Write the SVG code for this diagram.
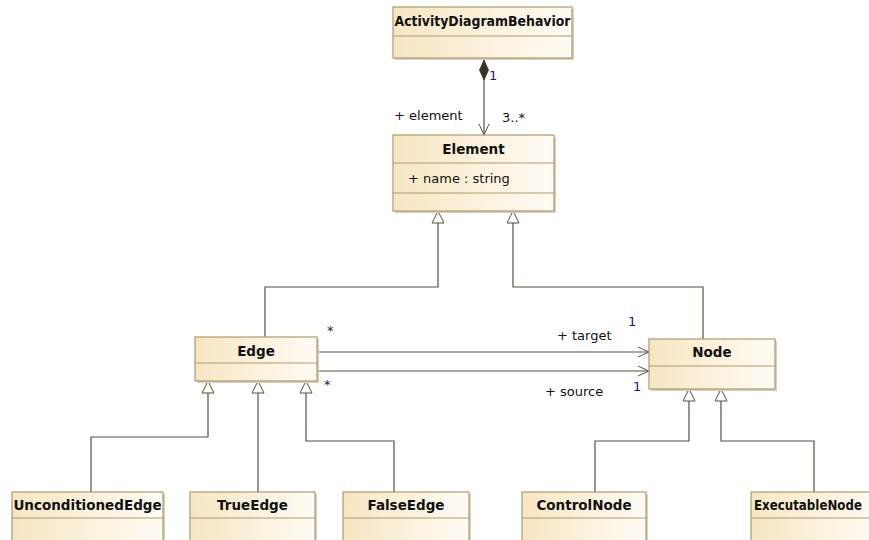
<svg xmlns="http://www.w3.org/2000/svg" width="869" height="540" viewBox="0 0 869 540">
<defs>
<linearGradient id="g" x1="0" y1="0" x2="1" y2="0">
<stop offset="0" stop-color="#F6E6C2"/>
<stop offset="1" stop-color="#FFFCF5"/>
</linearGradient>
<marker id="tri" viewBox="0 0 14 14" refX="13" refY="7" markerWidth="14" markerHeight="14" markerUnits="userSpaceOnUse" orient="auto">
<path d="M13,7 L1,1 L1,13 Z" fill="#fff" stroke="#5b4f3f" stroke-width="1"/>
</marker>
<marker id="open" viewBox="0 0 12 12" refX="11" refY="6" markerWidth="12" markerHeight="12" markerUnits="userSpaceOnUse" orient="auto-start-reverse">
<path d="M0,1 L11,6 L0,11" fill="none" stroke="#5b4f3f" stroke-width="1"/>
</marker>
<marker id="dia" viewBox="0 0 22 10" refX="21" refY="5" markerWidth="22" markerHeight="10" markerUnits="userSpaceOnUse" orient="auto">
<path d="M1,5 L11,0.5 L21,5 L11,9.5 Z" fill="#3a3228" stroke="#3a3228" stroke-width="0.8"/>
</marker>
</defs>
<style>
.box{fill:url(#g);stroke:#B09A6E;stroke-width:1.2}
.sh{fill:#d8cfc0}
.div{stroke:#B09A6E;stroke-width:1.2}
.name{font-family:"DejaVu Sans","Liberation Sans",sans-serif;font-size:13.5px;font-weight:bold;fill:#111;text-anchor:middle}
.t{font-family:"DejaVu Sans","Liberation Sans",sans-serif;font-size:13px;fill:#111}
.m{font-family:"DejaVu Sans","Liberation Sans",sans-serif;font-size:13px;fill:#20185a}
.c{fill:none;stroke:#5b4f3f;stroke-width:1.2}
</style>
<rect width="869" height="540" fill="#fff"/>
<g id="connectors">
<path class="c" d="M484,135 L484,60" marker-start="url(#open)" marker-end="url(#dia)"/>
<path class="c" d="M265,337 L265,287 L438,287 L438,211" marker-end="url(#tri)"/>
<path class="c" d="M703,339 L703,287 L513,287 L513,211" marker-end="url(#tri)"/>
<path class="c" d="M317,352 L649,352" marker-end="url(#open)"/>
<path class="c" d="M317,371 L649,371" marker-end="url(#open)"/>
<path class="c" d="M91,492 L91,437 L208,437 L208,381" marker-end="url(#tri)"/>
<path class="c" d="M258,492 L258,381" marker-end="url(#tri)"/>
<path class="c" d="M394,492 L394,441 L306,441 L306,381" marker-end="url(#tri)"/>
<path class="c" d="M595,492 L595,441 L689,441 L689,389" marker-end="url(#tri)"/>
<path class="c" d="M814,492 L814,441 L721,441 L721,389" marker-end="url(#tri)"/>
<text class="m" x="489" y="80">1</text>
<text class="t" x="394" y="120">+ element</text>
<text class="t" x="502" y="122">3..*</text>
<text class="m" x="327" y="335">*</text>
<text class="m" x="324" y="389">*</text>
<text class="t" x="557" y="340">+ target</text>
<text class="t" x="545" y="396">+ source</text>
<text class="m" x="628" y="326">1</text>
<text class="m" x="633" y="391">1</text>
</g>
<g id="ActivityDiagramBehavior">
<rect class="sh" x="395" y="9" width="179" height="51"/>
<rect class="box" x="393" y="7" width="179" height="51"/>
<line class="div" x1="393" y1="36" x2="572" y2="36"/>
<text class="name" x="482.5" y="26" textLength="176" lengthAdjust="spacingAndGlyphs">ActivityDiagramBehavior</text>
</g>
<g id="Element">
<rect class="sh" x="395" y="137" width="161" height="76"/>
<rect class="box" x="393" y="135" width="161" height="76"/>
<line class="div" x1="393" y1="163" x2="554" y2="163"/>
<line class="div" x1="393" y1="193" x2="554" y2="193"/>
<text class="name" x="473.5" y="154">Element</text>
<text class="t" x="408" y="183">+ name : string</text>
</g>
<g id="Edge">
<rect class="sh" x="197" y="339" width="122" height="44"/>
<rect class="box" x="195" y="337" width="122" height="44"/>
<line class="div" x1="195" y1="363" x2="317" y2="363"/>
<text class="name" x="256" y="356">Edge</text>
</g>
<g id="Node">
<rect class="sh" x="651" y="341" width="126" height="50"/>
<rect class="box" x="649" y="339" width="126" height="50"/>
<line class="div" x1="649" y1="366" x2="775" y2="366"/>
<text class="name" x="712" y="357">Node</text>
</g>
<g id="UnconditionedEdge">
<rect class="sh" x="14" y="494" width="151" height="50"/>
<rect class="box" x="12" y="492" width="151" height="60"/>
<line class="div" x1="12" y1="518" x2="163" y2="518"/>
<text class="name" x="87.5" y="510">UnconditionedEdge</text>
</g>
<g id="TrueEdge">
<rect class="sh" x="192" y="494" width="125" height="50"/>
<rect class="box" x="190" y="492" width="125" height="60"/>
<line class="div" x1="190" y1="518" x2="315" y2="518"/>
<text class="name" x="252.5" y="510">TrueEdge</text>
</g>
<g id="FalseEdge">
<rect class="sh" x="345" y="494" width="126" height="50"/>
<rect class="box" x="343" y="492" width="126" height="60"/>
<line class="div" x1="343" y1="518" x2="469" y2="518"/>
<text class="name" x="406" y="510">FalseEdge</text>
</g>
<g id="ControlNode">
<rect class="sh" x="524" y="494" width="124" height="50"/>
<rect class="box" x="522" y="492" width="124" height="60"/>
<line class="div" x1="522" y1="518" x2="646" y2="518"/>
<text class="name" x="584" y="510">ControlNode</text>
</g>
<g id="ExecutableNode">
<rect class="sh" x="753" y="494" width="130" height="50"/>
<rect class="box" x="751" y="492" width="130" height="60"/>
<line class="div" x1="751" y1="518" x2="881" y2="518"/>
<text class="name" x="808" y="510" textLength="108" lengthAdjust="spacingAndGlyphs">ExecutableNode</text>
</g>
</svg>
